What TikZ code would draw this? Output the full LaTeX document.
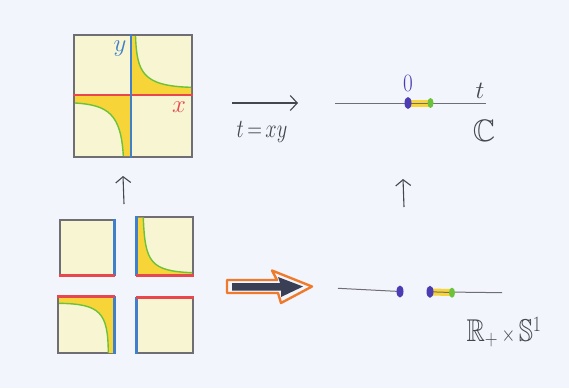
\documentclass[tikz,border=0pt]{standalone}
\usepackage{amssymb}
\usetikzlibrary{arrows.meta,shapes.geometric}
\definecolor{paper}{HTML}{F3F5FC}
\definecolor{paleyellow}{HTML}{F8F6D2}
\definecolor{gold}{HTML}{F7D438}
\definecolor{leaf}{HTML}{6CC23A}
\definecolor{axisblue}{HTML}{3F7FCC}
\definecolor{axisred}{HTML}{E8474D}
\definecolor{pencil}{HTML}{6E6E74}
\definecolor{ink}{HTML}{45474F}
\definecolor{violet}{HTML}{4B3CB4}
\definecolor{tangerine}{HTML}{F07A2C}
\definecolor{navy}{HTML}{3A3F55}
\tikzset{
  square/.style={draw=pencil, line width=1.1pt, fill=paleyellow, inner sep=0pt, rectangle},
  haxis/.style={axisred, line width=2.6pt},
  vaxis/.style={axisblue, line width=2.6pt},
  curve/.style={leaf, line width=1.4pt},
  region/.style={fill=gold},
  mapsto/.style={ink, line width=1.1pt, -{Straight Barb[length=7pt,width=15pt]}},
  uparrow/.style={ink, line width=1.1pt, -{Straight Barb[length=6pt,width=15pt]}},
  realline/.style={pencil, line width=1pt},
  band/.style={gold, line width=7pt},
  zerodot/.style={fill=violet, ellipse, minimum width=7pt, minimum height=12pt, inner sep=0pt},
  onedot/.style={fill=leaf, ellipse, minimum width=6pt, minimum height=10pt, inner sep=0pt},
  label/.style={inner sep=0pt, text=ink}
}
\begin{document}
\begin{tikzpicture}[x=1pt,y=-1pt]
\fill[paper] (0,0) rectangle (569,388);
\useasboundingbox (0,0) rectangle (569,388);

% ---- the (x,y) plane with the hyperbola xy = t
\node[square, minimum width=118pt, minimum height=122pt] (plane) at (133,96) {};
\fill[region] (131,36) -- (135.5,36) .. controls (137,72) and (142,86) .. (191,87.3)
  -- (191,95) -- (131,95) -- cycle;
\fill[region] (75,95) -- (75,103) .. controls (108,105) and (121,114) .. (123.3,156)
  -- (131,156) -- (131,95) -- cycle;
\draw[curve] (135.5,36) .. controls (137,72) and (142,86) .. (191,87.3);
\draw[curve] (75,103) .. controls (108,105) and (121,114) .. (123.3,156);
\draw[haxis] (plane.west |- 0,95) -- (plane.east |- 0,95);
\draw[vaxis] (plane.north -| 131,0) -- (plane.south -| 131,0);
\node[label, text=axisblue, font=\fontsize{25}{25}\selectfont] (ylab) at (120,49) {$y$};
\node[label, text=axisred, font=\fontsize{23}{23}\selectfont] (xlab) at (179,107) {$x$};

% ---- the four quadrants, cut apart
\node[square, minimum width=54pt, minimum height=55pt] (qa) at (87,247.5) {};
\node[square, minimum width=56pt, minimum height=58pt] (qb) at (165,246) {};
\node[square, minimum width=56pt, minimum height=56pt] (qc) at (86,325) {};
\node[square, minimum width=56pt, minimum height=55pt] (qd) at (165,325.5) {};

\fill[region] (138,217.5) -- (143.3,217.5) .. controls (145,262) and (150,271) .. (192,272.7)
  -- (192,275) -- (138,275) -- cycle;
\draw[curve] (143.3,217.5) .. controls (145,262) and (150,271) .. (192,272.7);
\fill[region] (59,298) -- (59,303.3) .. controls (100,304) and (108,312) .. (108.3,353)
  -- (114,353) -- (114,298) -- cycle;
\draw[curve] (59,303.3) .. controls (100,304) and (108,312) .. (108.3,353);

\draw[vaxis] (qa.north east) -- (qa.south east);
\draw[haxis] (qa.south west) -- (qa.south east);
\draw[vaxis] (qb.north west) -- (qb.south west);
\draw[haxis] (qb.south west) -- (qb.south east);
\draw[vaxis] (qc.north east) -- (qc.south east);
\draw[haxis] (qc.north west) -- (qc.north east);
\draw[vaxis] (qd.north west) -- (qd.south west);
\draw[haxis] (qd.north west) -- (qd.north east);

% ---- vertical maps
\coordinate (upLfrom) at (124,204);
\coordinate (upLto) at (123,176);
\draw[uparrow] (upLfrom) -- (upLto);
\coordinate (upRfrom) at (404,207);
\coordinate (upRto) at (403,179);
\draw[uparrow] (upRfrom) -- (upRto);

% ---- the map t = xy
\coordinate (mapfrom) at (232,103);
\coordinate (mapto) at (298,103);
\draw[mapsto] (mapfrom) -- (mapto);
\node[label, font=\fontsize{26}{26}\selectfont] (maplab) at (262,132)
  {\scalebox{0.82}[1.05]{$t\,{=}\,xy$}};

% ---- the target line C
\coordinate (cl) at (335,103);
\coordinate (cr) at (486,103);
\draw[realline] (cl) -- (cr);
\draw[band] (409,103) -- (430,103);
\draw[realline] (409,103) -- (430,103);
\node[zerodot] (c0) at (408,103) {};
\node[onedot] (c1) at (430.5,103) {};
\node[label, text=violet, font=\fontsize{25}{25}\selectfont] (zero) at (408,83)
  {\scalebox{0.85}[1]{$0$}};
\node[label, font=\fontsize{32}{32}\selectfont] (tlab) at (480,91) {$t$};
\node[label, font=\fontsize{31}{31}\selectfont] (Clab) at (484,131) {$\mathbb{C}$};

% ---- the big arrow
\draw[tangerine, line width=2.4pt, line join=round, fill=paper]
  (227,280) -- (277,280) -- (272,270.5) -- (312,286.5) -- (281,303) -- (278,293)
  -- (227,293) -- cycle;
\fill[navy] (232,283) -- (280,283) -- (278,277) -- (303,286.5) -- (281,297) -- (281,290.5)
  -- (232,290.5) -- cycle;

% ---- the cylinder R+ x S1
\coordinate (rl) at (338,288.3);
\coordinate (rm) at (400,291.5);
\draw[realline] (rl) -- (rm);
\node[zerodot] (r0) at (400,291.5) {};
\coordinate (sr) at (502,292.7);
\draw[realline] (430,291.8) -- (sr);
\draw[band] (431,292) -- (451,292.5);
\draw[realline] (431,291.8) -- (451,292.5);
\node[zerodot] (s0) at (430,291.8) {};
\node[onedot] (s1) at (452,292.7) {};
\node[label, font=\fontsize{30}{30}\selectfont] (cyl) at (504,332)
  {\scalebox{0.85}[1.05]{$\mathbb{R}_{+}\,{\scriptstyle\times}\,\mathbb{S}^{1}$}};
\end{tikzpicture}
\end{document}
